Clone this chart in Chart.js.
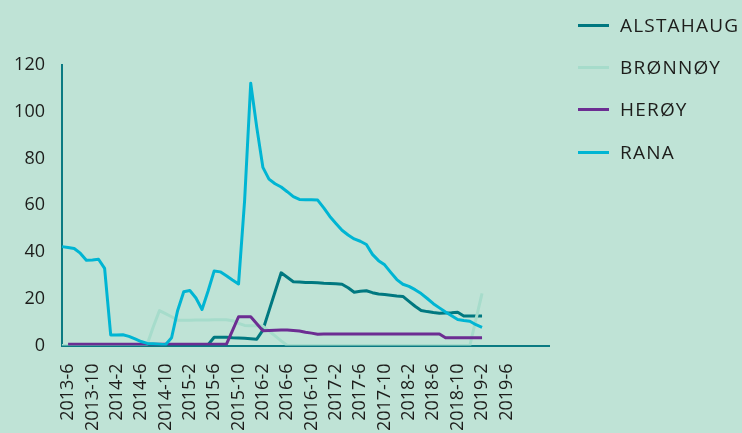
<!DOCTYPE html>
<html>
<head>
<meta charset="utf-8">
<script src="https://cdn.jsdelivr.net/npm/chart.js@4.4.1/dist/chart.umd.min.js"></script>
<style>
    body { margin: 0; background: #bfe3d6; font-family: 'Open Sans', sans-serif; }
    #wrap { position: relative; width: 742px; height: 433px; }
    #legend { position: absolute; left: 578px; top: 0; }
    .item { position: absolute; left: 0; height: 24px; display: flex; align-items: center; white-space: nowrap; }
    .item .swatch { width: 31px; height: 3px; margin-right: 11px; }
    .item .name { font-size: 19px; letter-spacing: 1.2px; color: #1d1d1b; }
</style>
</head>
<body>
<div id="wrap">
    <canvas id="lineChart"></canvas>
    <div id="legend"></div>
</div>
<script>
// Months on the x axis (one category per month)
const categories = [
    '2013-5', '2013-6', '2013-7', '2013-8', '2013-9', '2013-10', '2013-11', '2013-12',
    '2014-1', '2014-2', '2014-3', '2014-4', '2014-5', '2014-6', '2014-7', '2014-8', '2014-9', '2014-10', '2014-11', '2014-12',
    '2015-1', '2015-2', '2015-3', '2015-4', '2015-5', '2015-6', '2015-7', '2015-8', '2015-9', '2015-10', '2015-11', '2015-12',
    '2016-1', '2016-2', '2016-3', '2016-4', '2016-5', '2016-6', '2016-7', '2016-8', '2016-9', '2016-10', '2016-11', '2016-12',
    '2017-1', '2017-2', '2017-3', '2017-4', '2017-5', '2017-6', '2017-7', '2017-8', '2017-9', '2017-10', '2017-11', '2017-12',
    '2018-1', '2018-2', '2018-3', '2018-4', '2018-5', '2018-6', '2018-7', '2018-8', '2018-9', '2018-10', '2018-11', '2018-12',
    '2019-1', '2019-2', '2019-3', '2019-4', '2019-5', '2019-6', '2019-7', '2019-8', '2019-9', '2019-10', '2019-11', '2019-12',
    '2020-1'
];

// Labels that are shown under the axis
const tickLabels = [
    '2013-6', '2013-10', '2014-2', '2014-6', '2014-10', '2015-2', '2015-6', '2015-10',
    '2016-2', '2016-6', '2016-10', '2017-2', '2017-6', '2017-10', '2018-2', '2018-6',
    '2018-10', '2019-2', '2019-6'
];

const yTicks = [0, 20, 40, 60, 80, 100, 120];

// Series values, 2013-5 .. 2019-2
const alstahaug = [
    0, 0, 0, 0, 0, 0, 0, 0, 0, 0, 0, 0, 0, 0, 0, 0, 0, 0, 0, 0, 0, 0, 0, 0, 0.3,
    3.5, 3.5, 3.5, 3.3, 3.2, 3.1, 2.9, 2.7, 6.6, 14.8, 23.0, 31.1, 29.2, 27.3, 27.2,
    27.0, 26.9, 26.8, 26.6, 26.5, 26.4, 26.2, 24.7, 22.8, 23.2, 23.4, 22.6, 22.0, 21.8,
    21.5, 21.2, 21.0, 18.9, 16.8, 15.0, 14.5, 14.1, 13.8, 13.9, 14.0, 14.2, 12.6, 12.6,
    12.6, 12.6
];

const bronnoy = [
    0, 0, 0, 0, 0, 0, 0, 0, 0, 0, 0, 0, 0, 0, 0.5, 8.0, 14.9, 13.6, 12.3, 10.8,
    10.8, 10.8, 10.9, 10.9, 10.9, 11.0, 11.0, 11.0, 10.6, 9.5, 8.6, 8.5, 8.4, 8.3,
    6.2, 4.1, 2.0, 0, 0, 0, 0, 0, 0, 0, 0, 0, 0, 0, 0, 0, 0, 0, 0, 0, 0, 0, 0, 0,
    0, 0, 0, 0, 0, 0, 0, 0, 0, 0, 11.2, 22.3
];

const heroy = [
    null, 0.5, 0.5, 0.5, 0.5, 0.5, 0.5, 0.5, 0.5, 0.5, 0.5, 0.5, 0.5, 0.5, 0.5, 0.5,
    0.5, 0.5, 0.5, 0.5, 0.5, 0.5, 0.5, 0.5, 0.5, 0.5, 0.5, 0.5, 6.4, 12.3, 12.3, 12.3,
    9.3, 6.3, 6.4, 6.5, 6.6, 6.6, 6.4, 6.2, 5.7, 5.3, 4.8, 4.9, 4.9, 4.9, 4.9, 4.9,
    4.9, 4.9, 4.9, 4.9, 4.9, 4.9, 4.9, 4.9, 4.9, 4.9, 4.9, 4.9, 4.9, 4.9, 4.9, 3.3,
    3.3, 3.3, 3.3, 3.3, 3.3, 3.3
];

const rana = [
    42.3, 41.9, 41.5, 39.5, 36.5, 36.6, 36.9, 33.0, 4.5, 4.5, 4.6, 3.9, 2.8, 1.7,
    0.9, 0.7, 0.5, 0.3, 3.3, 15.0, 23.0, 23.5, 20.3, 15.4, 23.3, 31.9, 31.5, 29.8,
    28.0, 26.3, 62.1, 112.2, 93.2, 76.2, 71.2, 69.2, 67.8, 65.8, 63.7, 62.5, 62.4,
    62.3, 62.2, 58.9, 55.2, 52.2, 49.3, 47.3, 45.6, 44.6, 43.2, 39.0, 36.3, 34.5,
    31.3, 28.2, 26.2, 25.3, 23.9, 22.2, 20.1, 17.9, 16.1, 14.3, 12.7, 11.1, 10.7,
    10.4, 8.9, 7.8
];

const seriesNames = ['ALSTAHAUG', 'BRØNNØY', 'HERØY', 'RANA'];
const seriesColors = ['#007880', '#a6dccb', '#6c2d92', '#00b5d3'];

const axisColor = '#0a7a82';
const textColor = '#1d1d1b';

function createLineChart() {
    const values = [alstahaug, bronnoy, heroy, rana];
    const datasets = seriesNames.map((name, i) => ({
        label: name,
        data: values[i],
        borderColor: seriesColors[i],
        backgroundColor: seriesColors[i],
        borderWidth: 3,
        pointRadius: 0,
        borderJoinStyle: 'round',
        tension: 0,
        fill: false,
        order: 3 - i // later series drawn on top
    }));

    const ctx = document.getElementById('lineChart').getContext('2d');
    new Chart(ctx, {
        type: 'line',
        data: { labels: categories, datasets: datasets },
        options: {
            responsive: true,
            maintainAspectRatio: false,
            animation: false,
            layout: { padding: { top: 65, right: 193, bottom: 0, left: 0 } },
            plugins: {
                legend: { display: false },
                tooltip: { enabled: false }
            },
            scales: {
                x: {
                    type: 'category',
                    z: 1,
                    grid: { display: false, drawTicks: false },
                    border: { display: true, color: axisColor, width: 2 },
                    afterFit: scale => { scale.height = 87.5; },
                    ticks: {
                        autoSkip: false,
                        minRotation: 90,
                        maxRotation: 90,
                        padding: 18,
                        color: textColor,
                        font: { family: 'Open Sans', size: 18 },
                        callback: function(value) {
                            const label = this.getLabelForValue(value);
                            return tickLabels.includes(label) ? label : null;
                        }
                    }
                },
                y: {
                    min: 0,
                    max: 120,
                    z: 1,
                    grid: { display: false, drawTicks: false },
                    border: { display: true, color: axisColor, width: 2 },
                    afterFit: scale => { scale.width = 62; },
                    afterBuildTicks: scale => {
                        scale.ticks = yTicks.map(v => ({ value: v }));
                    },
                    ticks: {
                        padding: 17,
                        color: textColor,
                        font: { family: 'Open Sans', size: 18 }
                    }
                }
            }
        }
    });

    // Legend on the right
    const legend = document.getElementById('legend');
    const rowCenters = [25, 67, 109, 152];
    seriesNames.forEach((name, i) => {
        const row = document.createElement('div');
        row.className = 'item';
        row.style.top = (rowCenters[i] - 12) + 'px';
        row.innerHTML = `<span class="swatch" style="background:${seriesColors[i]}"></span><span class="name">${name}</span>`;
        legend.appendChild(row);
    });
}

createLineChart();
</script>
</body>
</html>
